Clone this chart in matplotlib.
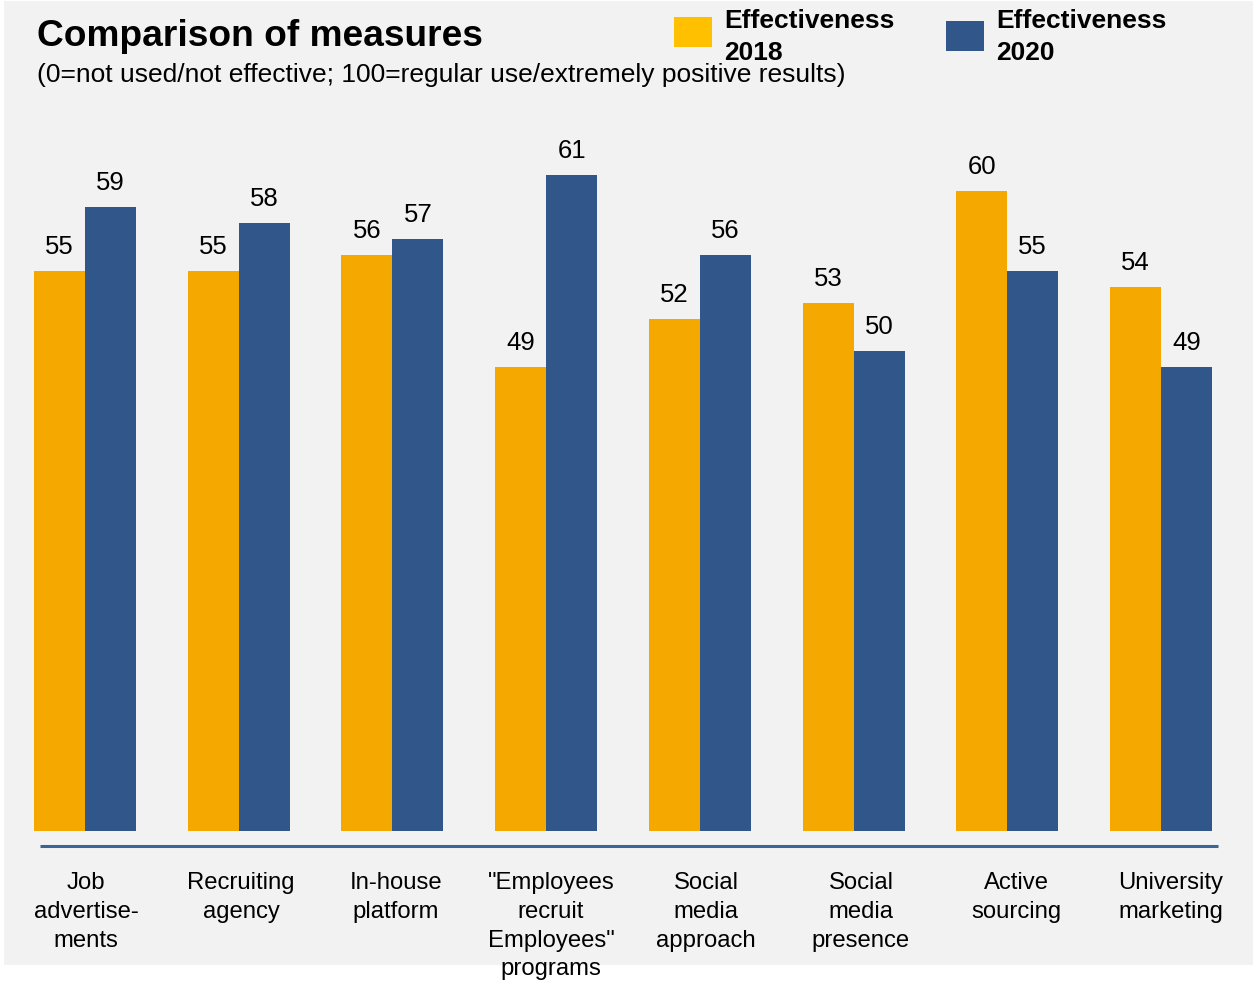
import numpy as np
import matplotlib.pyplot as plt
from matplotlib.patches import Rectangle

plt.rcParams['font.family'] = ['Liberation Sans', 'DejaVu Sans']

categories = ["Job\nadvertise-\nments", "Recruiting\nagency", "In-house\nplatform",
              "\"Employees\nrecruit\nEmployees\"\nprograms", "Social\nmedia\napproach",
              "Social\nmedia\npresence", "Active\nsourcing", "University\nmarketing"]
eff_2018 = [55, 55, 56, 49, 52, 53, 60, 54]
eff_2020 = [59, 58, 57, 61, 56, 50, 55, 49]
series_names = ["Effectiveness\n2018", "Effectiveness\n2020"]

bar_orange = '#F5A800'
legend_orange = '#FFC000'
bar_blue = '#31568A'
line_blue = '#3D6399'

W, H = 1253, 982
fig = plt.figure(figsize=(W / 100, H / 100), dpi=100)
fig.patch.set_facecolor('white')

def fx(px):
    return px / W

def fy(py):
    return 1 - py / H

# grey panel behind everything
fig.patches.append(Rectangle((fx(4), fy(965)), fx(1253) - fx(4), fy(1) - fy(965),
                             transform=fig.transFigure, facecolor='#F2F2F2',
                             edgecolor='none', zorder=-10))

ax = fig.add_axes([0, 0, 1, 1])
ax.set_facecolor('none')
ax.axis('off')

# groups every 153.7 px, first centre at x=85; 16 px per unit, zero at y=1151
step = 153.7
ax.set_xlim(-85 / step, (W - 85) / step)
ax.set_ylim((1151 - H) / 16, 1151 / 16)

base = 20
w = 51 / step
x = np.arange(len(categories))
b1 = ax.bar(x - w / 2, np.array(eff_2018) - base, bottom=base, width=w, color=bar_orange)
b2 = ax.bar(x + w / 2, np.array(eff_2020) - base, bottom=base, width=w, color=bar_blue)

for xs, vals in [(x - w / 2, eff_2018), (x + w / 2, eff_2020)]:
    for xi, v in zip(xs, vals):
        ax.annotate(str(v), (xi, v), xytext=(0, 12.5), textcoords='offset points',
                    ha='center', va='baseline', fontsize=18.5)

# baseline rule under the bars
ax.plot([(40 - 85) / step, (1218 - 85) / step], [(1151 - 846) / 16] * 2,
        color=line_blue, lw=2.2, solid_capstyle='butt', clip_on=False)

# category names sit on a slightly wider pitch than the bars
label_x = (1 + 155 * x) / step
for xi, lab in zip(label_x, categories):
    ax.text(xi, (1151 - 872) / 16, lab, ha='center', va='top', fontsize=17.2,
            linespacing=1.4)

fig.text(fx(37), fy(46), "Comparison of measures", fontsize=26.7, fontweight='bold',
         va='baseline', ha='left')
fig.text(fx(37), fy(82), "(0=not used/not effective; 100=regular use/extremely positive results)",
         fontsize=19, va='baseline', ha='left')

# legend
leg = [(674, 17, legend_orange, 724), (946, 21, bar_blue, 996)]
for (lx, ly, col, tx), name in zip(leg, series_names):
    fig.patches.append(Rectangle((fx(lx), fy(ly + 30)), fx(38), 30 / H,
                                 transform=fig.transFigure, facecolor=col,
                                 edgecolor='none', zorder=2))
    fig.text(fx(tx), fy(9), name, fontsize=19, fontweight='bold', va='top',
             ha='left', linespacing=1.42)

fig.savefig('out.png', dpi=100)
